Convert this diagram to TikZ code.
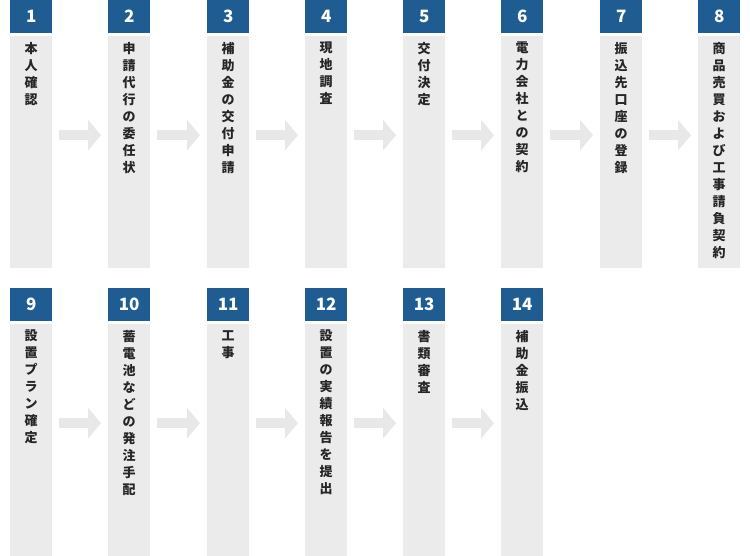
\documentclass[tikz,border=0pt]{standalone}
\usepackage{fontspec}
\setmainfont{Noto Sans CJK JP}
\usetikzlibrary{arrows.meta,calc}
\definecolor{stepblue}{HTML}{1E5C92}
\definecolor{stepgrey}{HTML}{EBEBEB}
\definecolor{arrowgrey}{HTML}{E8E8E8}
\tikzset{
  numbox/.style={fill=stepblue, text=white, minimum width=42pt, minimum height=33pt, inner sep=0pt, anchor=north west, font=\bfseries\fontsize{17}{17}\selectfont},
  colbox/.style={fill=stepgrey, minimum width=42pt, minimum height=232pt, inner sep=0pt, anchor=north west},
  coltext/.style={anchor=north, align=center, inner sep=0pt, font=\bfseries\fontsize{13}{17}\selectfont, text=black!85},
  flow/.style={draw=arrowgrey, line width=10pt, -{Triangle[length=13pt,width=30pt]}}
}
\begin{document}
\begin{tikzpicture}[x=1pt,y=-1pt]
\useasboundingbox (0,0) rectangle (750,556);
% columns
\foreach \n/\x/\y/\t in {
  1/10/0/{本\\人\\確\\認},
  2/108/0/{申\\請\\代\\行\\の\\委\\任\\状},
  3/207/0/{補\\助\\金\\の\\交\\付\\申\\請},
  4/305/0/{現\\地\\調\\査},
  5/403/0/{交\\付\\決\\定},
  6/501/0/{電\\力\\会\\社\\と\\の\\契\\約},
  7/600/0/{振\\込\\先\\口\\座\\の\\登\\録},
  8/698/0/{商\\品\\売\\買\\お\\よ\\び\\工\\事\\請\\負\\契\\約},
  9/10/288/{設\\置\\プ\\ラ\\ン\\確\\定},
  10/108/288/{蓄\\電\\池\\な\\ど\\の\\発\\注\\手\\配},
  11/207/288/{工\\事},
  12/305/288/{設\\置\\の\\実\\績\\報\\告\\を\\提\\出},
  13/403/288/{書\\類\\審\\査},
  14/501/288/{補\\助\\金\\振\\込}}{
  \node[numbox] (h\n) at (\x,\y) {\n};
  \node[colbox] (c\n) at (\x,\y+36) {};
  \node[coltext] (t\n) at ($(c\n.north)+(0,6)$) {\t};
}
% arrows
\foreach \a/\b in {1/2,2/3,3/4,4/5,5/6,6/7,7/8,9/10,10/11,11/12,12/13,13/14}{
  \draw[flow] ($(c\a.east)+(7,-17)$) -- ($(c\b.west)+(-7,-17)$);
}
\end{tikzpicture}
\end{document}
